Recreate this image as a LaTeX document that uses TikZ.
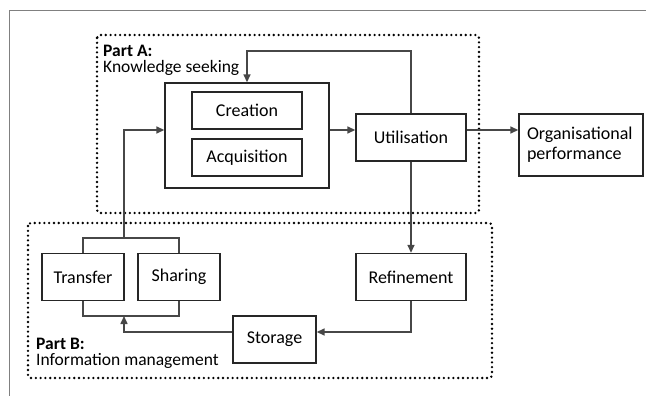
\documentclass[tikz,border=0pt]{standalone}
\usepackage{fontspec}
\setmainfont{Carlito}
\usetikzlibrary{arrows.meta,positioning}

\begin{document}
\begin{tikzpicture}[x=1pt,y=-1pt,
  box/.style={draw=black!85,line width=1.4pt,inner sep=0pt,font=\fontsize{18}{20}\selectfont},
  link/.style={draw=black!72,line width=1.5pt},
  arr/.style={link,-{Triangle[length=8pt,width=7pt]}},
  part/.style={draw=black,line width=2.6pt,dash pattern=on 0pt off 4.8pt,line cap=round,rounded corners=3pt},
  lbl/.style={anchor=west,inner sep=0pt,align=left,font=\fontsize{17.5}{16.5}\selectfont}]
  \useasboundingbox (0,0) rectangle (646,396);
  \draw[black!50,line width=1pt] (9,396) -- (9,11) -- (646,11);

  \draw[part] (97,35) rectangle (479,213);
  \draw[part] (28,223) rectangle (492,378);
  \node[lbl] (partA) at (103,60.5) {\textbf{Part A:}\\Knowledge seeking};
  \node[lbl] (partB) at (36,353.5) {\textbf{Part B:}\\Information management};

  \node[box,minimum width=164pt,minimum height=105pt] (seek) at (247,135.5) {};
  \node[box,minimum width=110pt,minimum height=37pt] (create) at (247,110.5) {Creation};
  \node[box,minimum width=110pt,minimum height=37pt] (acquire) at (247,157.5) {Acquisition};
  \node[box,minimum width=110pt,minimum height=47pt] (util) at (411,137.5) {Utilisation};
  \node[box,text width=108pt,inner xsep=8pt,align=left,minimum height=62pt] (perf) at (581,145) {Organisational\\performance};
  \node[box,minimum width=110pt,minimum height=47pt] (refine) at (411,277) {Refinement};
  \node[box,minimum width=83pt,minimum height=47pt] (store) at (274.5,339.5) {Storage};
  \node[box,minimum width=82pt,minimum height=47pt] (transfer) at (83,277) {Transfer};
  \node[box,minimum width=82pt,minimum height=47pt] (share) at (179,277) {Sharing};

  \coordinate (flow) at (0,130);
  \coordinate (back) at (0,332);
  \coordinate (loop) at (411,51);
  \coordinate (brt) at (124,238);
  \coordinate (brb) at (124,316);

  \draw[arr] (util.north) -- (loop) -| (seek.north);
  \draw[arr] (seek.east |- flow) -- (util.west |- flow);
  \draw[arr] (util.east |- flow) -- (perf.west |- flow);
  \draw[arr] (util.south) -- (refine.north);
  \draw[arr] (refine.south) |- (store.east |- back);
  \draw[arr] (store.west |- back) -| (brb);
  \draw[link] (transfer.north) |- (brt) -| (share.north);
  \draw[link] (transfer.south) |- (brb) -| (share.south);
  \draw[arr] (brt) |- (seek.west |- flow);
\end{tikzpicture}
\end{document}
